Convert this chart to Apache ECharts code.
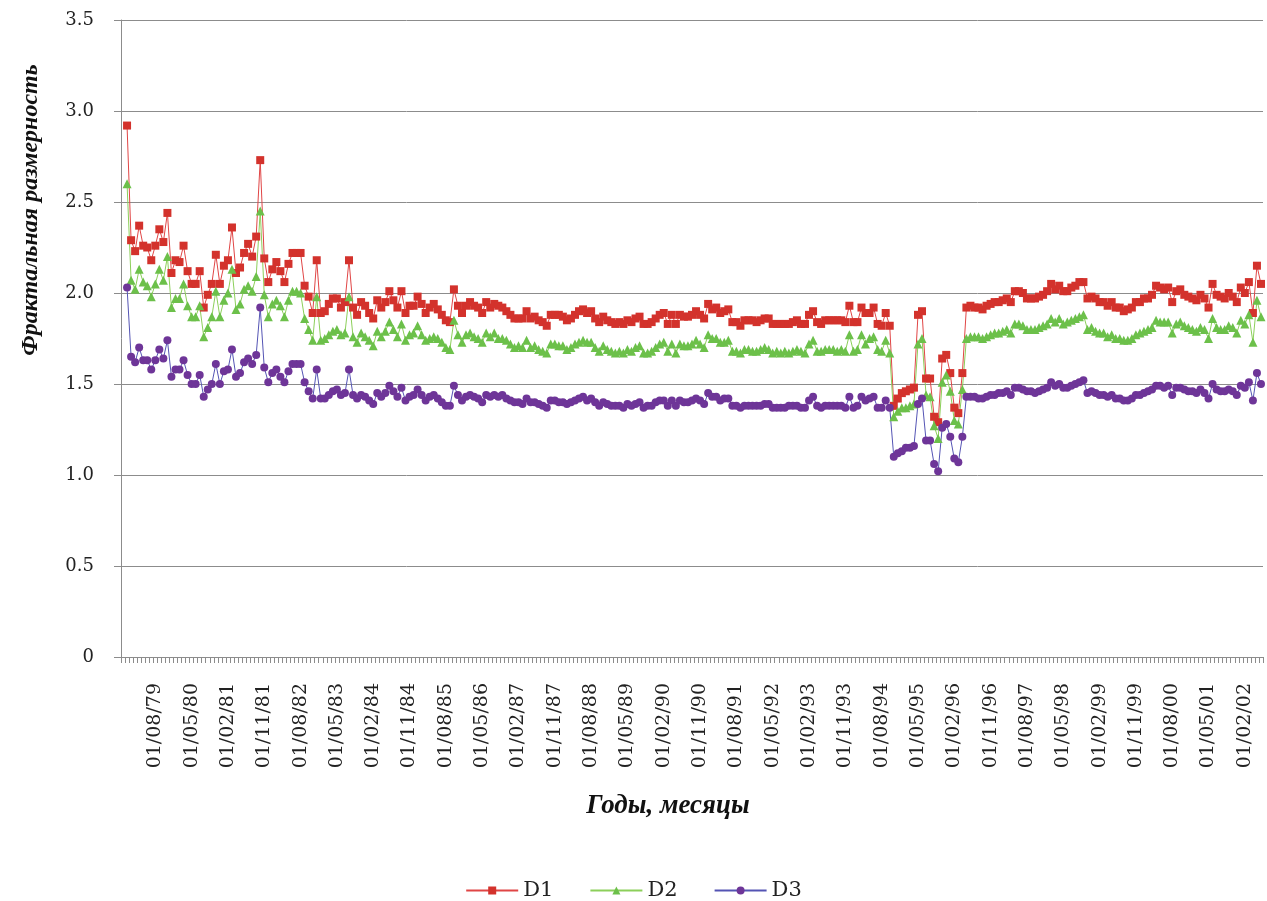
<!DOCTYPE html>
<html>
<head>
<meta charset="utf-8">
<script src="https://cdn.jsdelivr.net/npm/echarts@6/dist/echarts.min.js"></script>
<style>
  html, body { margin: 0; padding: 0; background: #fff; }
  #chart { width: 1267px; height: 901px; }
</style>
</head>
<body>
<div id="chart"></div>
<script>
// monthly categories: first (empty) slot 01/12/78, data from 01/01/79 to 01/06/02
const startYear = 1978
const startMonth = 12
const categoryCount = 283
const categories = []
for (let k = 0; k < categoryCount; k++) {
  const m = (startMonth - 1 + k) % 12 + 1
  const y = startYear + Math.floor((startMonth - 1 + k) / 12)
  categories.push('01/' + String(m).padStart(2, '0') + '/' + String(y % 100).padStart(2, '0'))
}

const yTicks = [0, 0.5, 1.0, 1.5, 2.0, 2.5, 3.0, 3.5]

const d1 = [
  2.92, 2.29, 2.23, 2.37, 2.26, 2.25, 2.18, 2.26, 2.35, 2.28,
  2.44, 2.11, 2.18, 2.17, 2.26, 2.12, 2.05, 2.05, 2.12, 1.92,
  1.99, 2.05, 2.21, 2.05, 2.15, 2.18, 2.36, 2.11, 2.14, 2.22,
  2.27, 2.20, 2.31, 2.73, 2.19, 2.06, 2.13, 2.17, 2.12, 2.06,
  2.16, 2.22, 2.22, 2.22, 2.04, 1.98, 1.89, 2.18, 1.89, 1.90,
  1.94, 1.97, 1.97, 1.92, 1.95, 2.18, 1.92, 1.88, 1.95, 1.93,
  1.89, 1.86, 1.96, 1.92, 1.95, 2.01, 1.96, 1.92, 2.01, 1.89,
  1.93, 1.93, 1.98, 1.94, 1.89, 1.92, 1.94, 1.91, 1.88, 1.85,
  1.84, 2.02, 1.93, 1.89, 1.93, 1.95, 1.93, 1.92, 1.89, 1.95,
  1.92, 1.94, 1.93, 1.92, 1.90, 1.88, 1.86, 1.86, 1.86, 1.90,
  1.86, 1.87, 1.85, 1.84, 1.82, 1.88, 1.88, 1.88, 1.87, 1.85,
  1.86, 1.88, 1.90, 1.91, 1.89, 1.90, 1.86, 1.84, 1.87, 1.85,
  1.84, 1.83, 1.84, 1.83, 1.85, 1.84, 1.86, 1.87, 1.83, 1.83,
  1.84, 1.86, 1.88, 1.89, 1.83, 1.88, 1.83, 1.88, 1.87, 1.87,
  1.88, 1.90, 1.88, 1.86, 1.94, 1.91, 1.92, 1.89, 1.90, 1.91,
  1.84, 1.84, 1.82, 1.85, 1.85, 1.85, 1.84, 1.85, 1.86, 1.86,
  1.83, 1.83, 1.83, 1.83, 1.83, 1.84, 1.85, 1.83, 1.83, 1.88,
  1.90, 1.84, 1.83, 1.85, 1.85, 1.85, 1.85, 1.85, 1.84, 1.93,
  1.84, 1.84, 1.92, 1.89, 1.89, 1.92, 1.83, 1.82, 1.89, 1.82,
  1.38, 1.42, 1.45, 1.46, 1.47, 1.48, 1.88, 1.90, 1.53, 1.53,
  1.32, 1.29, 1.64, 1.66, 1.56, 1.37, 1.34, 1.56, 1.92, 1.93,
  1.92, 1.92, 1.91, 1.93, 1.94, 1.95, 1.95, 1.96, 1.97, 1.95,
  2.01, 2.01, 2.00, 1.97, 1.97, 1.97, 1.98, 1.99, 2.01, 2.05,
  2.02, 2.04, 2.01, 2.01, 2.03, 2.04, 2.06, 2.06, 1.97, 1.98,
  1.97, 1.95, 1.95, 1.93, 1.95, 1.92, 1.92, 1.90, 1.91, 1.92,
  1.95, 1.95, 1.97, 1.97, 1.99, 2.04, 2.03, 2.02, 2.03, 1.95,
  2.01, 2.02, 1.99, 1.98, 1.97, 1.96, 1.99, 1.97, 1.92, 2.05,
  1.99, 1.98, 1.97, 2.00, 1.98, 1.95, 2.03, 2.00, 2.06, 1.89,
  2.15, 2.05
]

const d2 = [
  2.60, 2.07, 2.02, 2.13, 2.06, 2.04, 1.98, 2.05, 2.13, 2.07,
  2.20, 1.92, 1.97, 1.97, 2.05, 1.93, 1.87, 1.87, 1.93, 1.76,
  1.81, 1.87, 2.01, 1.87, 1.96, 2.00, 2.13, 1.91, 1.94, 2.02,
  2.04, 2.01, 2.09, 2.45, 1.99, 1.87, 1.94, 1.96, 1.93, 1.87,
  1.96, 2.01, 2.01, 2.00, 1.86, 1.80, 1.74, 1.98, 1.74, 1.75,
  1.77, 1.79, 1.80, 1.77, 1.78, 1.98, 1.76, 1.73, 1.78, 1.76,
  1.74, 1.71, 1.79, 1.76, 1.79, 1.84, 1.80, 1.76, 1.83, 1.74,
  1.77, 1.78, 1.82, 1.77, 1.74, 1.75, 1.76, 1.75, 1.73, 1.70,
  1.69, 1.85, 1.77, 1.73, 1.77, 1.78, 1.76, 1.75, 1.73, 1.78,
  1.76, 1.78, 1.75, 1.75, 1.74, 1.72, 1.70, 1.71, 1.70, 1.74,
  1.70, 1.71, 1.69, 1.68, 1.67, 1.72, 1.72, 1.71, 1.71, 1.69,
  1.70, 1.72, 1.73, 1.74, 1.73, 1.73, 1.70, 1.68, 1.71, 1.69,
  1.68, 1.67, 1.68, 1.67, 1.69, 1.68, 1.70, 1.71, 1.67, 1.67,
  1.68, 1.70, 1.72, 1.73, 1.68, 1.72, 1.67, 1.72, 1.71, 1.71,
  1.72, 1.74, 1.72, 1.70, 1.77, 1.75, 1.75, 1.73, 1.73, 1.74,
  1.68, 1.68, 1.67, 1.69, 1.69, 1.68, 1.68, 1.69, 1.70, 1.69,
  1.67, 1.68, 1.67, 1.68, 1.67, 1.68, 1.69, 1.68, 1.67, 1.72,
  1.74, 1.68, 1.68, 1.69, 1.69, 1.69, 1.68, 1.69, 1.68, 1.77,
  1.68, 1.69, 1.77, 1.72, 1.75, 1.76, 1.69, 1.68, 1.74, 1.67,
  1.32, 1.35, 1.37, 1.37, 1.38, 1.39, 1.72, 1.75, 1.44, 1.43,
  1.27, 1.20, 1.51, 1.55, 1.46, 1.30, 1.28, 1.47, 1.75, 1.76,
  1.76, 1.76, 1.75, 1.76, 1.77, 1.78, 1.78, 1.79, 1.80, 1.78,
  1.83, 1.83, 1.82, 1.80, 1.80, 1.80, 1.81, 1.82, 1.83, 1.86,
  1.84, 1.86, 1.83, 1.84, 1.85, 1.86, 1.87, 1.88, 1.80, 1.81,
  1.79, 1.78, 1.78, 1.76, 1.77, 1.75, 1.75, 1.74, 1.74, 1.75,
  1.77, 1.78, 1.79, 1.80, 1.81, 1.85, 1.84, 1.84, 1.84, 1.78,
  1.83, 1.84, 1.82, 1.81, 1.80, 1.79, 1.81, 1.80, 1.75, 1.86,
  1.81, 1.80, 1.80, 1.82, 1.81, 1.78, 1.85, 1.83, 1.88, 1.73,
  1.96, 1.87
]

const d3 = [
  2.03, 1.65, 1.62, 1.70, 1.63, 1.63, 1.58, 1.63, 1.69, 1.64,
  1.74, 1.54, 1.58, 1.58, 1.63, 1.55, 1.50, 1.50, 1.55, 1.43,
  1.47, 1.50, 1.61, 1.50, 1.57, 1.58, 1.69, 1.54, 1.56, 1.62,
  1.64, 1.61, 1.66, 1.92, 1.59, 1.51, 1.56, 1.58, 1.54, 1.51,
  1.57, 1.61, 1.61, 1.61, 1.51, 1.46, 1.42, 1.58, 1.42, 1.42,
  1.44, 1.46, 1.47, 1.44, 1.45, 1.58, 1.44, 1.42, 1.44, 1.43,
  1.41, 1.39, 1.45, 1.43, 1.45, 1.49, 1.46, 1.43, 1.48, 1.41,
  1.43, 1.44, 1.47, 1.44, 1.41, 1.43, 1.44, 1.42, 1.40, 1.38,
  1.38, 1.49, 1.44, 1.41, 1.43, 1.44, 1.43, 1.42, 1.40, 1.44,
  1.43, 1.44, 1.43, 1.44, 1.42, 1.41, 1.40, 1.40, 1.39, 1.42,
  1.40, 1.40, 1.39, 1.38, 1.37, 1.41, 1.41, 1.40, 1.40, 1.39,
  1.40, 1.41, 1.42, 1.43, 1.41, 1.42, 1.40, 1.38, 1.40, 1.39,
  1.38, 1.38, 1.38, 1.37, 1.39, 1.38, 1.39, 1.40, 1.37, 1.38,
  1.38, 1.40, 1.41, 1.41, 1.38, 1.41, 1.38, 1.41, 1.40, 1.40,
  1.41, 1.42, 1.41, 1.39, 1.45, 1.43, 1.43, 1.41, 1.42, 1.42,
  1.38, 1.38, 1.37, 1.38, 1.38, 1.38, 1.38, 1.38, 1.39, 1.39,
  1.37, 1.37, 1.37, 1.37, 1.38, 1.38, 1.38, 1.37, 1.37, 1.41,
  1.43, 1.38, 1.37, 1.38, 1.38, 1.38, 1.38, 1.38, 1.37, 1.43,
  1.37, 1.38, 1.43, 1.41, 1.42, 1.43, 1.37, 1.37, 1.41, 1.37,
  1.10, 1.12, 1.13, 1.15, 1.15, 1.16, 1.39, 1.42, 1.19, 1.19,
  1.06, 1.02, 1.26, 1.28, 1.21, 1.09, 1.07, 1.21, 1.43, 1.43,
  1.43, 1.42, 1.42, 1.43, 1.44, 1.44, 1.45, 1.45, 1.46, 1.44,
  1.48, 1.48, 1.47, 1.46, 1.46, 1.45, 1.46, 1.47, 1.48, 1.51,
  1.49, 1.50, 1.48, 1.48, 1.49, 1.50, 1.51, 1.52, 1.45, 1.46,
  1.45, 1.44, 1.44, 1.43, 1.44, 1.42, 1.42, 1.41, 1.41, 1.42,
  1.44, 1.44, 1.45, 1.46, 1.47, 1.49, 1.49, 1.48, 1.49, 1.44,
  1.48, 1.48, 1.47, 1.46, 1.46, 1.45, 1.47, 1.45, 1.42, 1.50,
  1.47, 1.46, 1.46, 1.47, 1.46, 1.44, 1.49, 1.48, 1.51, 1.41,
  1.56, 1.50
]

const serif = '"DejaVu Serif", "Liberation Serif", serif'
const titleFont = '"Liberation Serif", "DejaVu Serif", serif'
const gray = '#8c8c8c'

const chart = echarts.init(document.getElementById('chart'))

function makeSeries(name, values, symbol, size, markColor, lineColor) {
  return {
    type: 'line',
    name,
    data: [null].concat(values),
    symbol,
    symbolSize: size,
    showAllSymbol: true,
    animation: false,
    lineStyle: { color: lineColor, width: 1 },
    itemStyle: { color: markColor },
    emphasis: { disabled: true },
  }
}

chart.setOption({
  animation: false,
  grid: { left: 121, right: 4, top: 20, bottom: 244, containLabel: false },
  xAxis: {
    type: 'category',
    data: categories,
    boundaryGap: true,
    axisLine: { lineStyle: { color: gray, width: 1 } },
    axisTick: { show: true, interval: 0, length: 6, lineStyle: { color: gray } },
    axisLabel: {
      interval: (index) => index % 9 === 8,
      rotate: 90,
      margin: 26,
      fontFamily: serif,
      fontSize: 19,
      color: '#222',
    },
    splitLine: { show: false },
  },
  yAxis: {
    type: 'value',
    min: yTicks[0],
    max: yTicks[yTicks.length - 1],
    interval: 0.5,
    axisLine: { show: true, lineStyle: { color: gray, width: 1 } },
    axisTick: { show: true, length: 7, lineStyle: { color: gray } },
    axisLabel: {
      margin: 27,
      fontFamily: serif,
      fontSize: 18,
      color: '#222',
      formatter: (v) => (v === 0 ? '0' : v.toFixed(1)),
    },
    splitLine: { lineStyle: { color: gray, width: 1 } },
  },
  legend: {
    top: 875,
    left: 'center',
    itemWidth: 52,
    itemHeight: 10,
    itemGap: 36,
    textStyle: { fontFamily: serif, fontSize: 21, color: '#222' },
    data: ['D1', 'D2', 'D3'],
  },
  graphic: [
    {
      type: 'text',
      x: 31,
      y: 210,
      rotation: Math.PI / 2,
      style: {
        text: 'Фрактальная размерность',
        font: 'italic bold 24px ' + titleFont,
        fill: '#111',
        align: 'center',
        verticalAlign: 'middle',
      },
    },
    {
      type: 'text',
      x: 668,
      y: 806,
      style: {
        text: 'Годы, месяцы',
        font: 'italic bold 27px ' + titleFont,
        fill: '#111',
        align: 'center',
        verticalAlign: 'middle',
      },
    },
  ],
  series: [
    makeSeries('D1', d1, 'rect', 8, '#d3322c', '#e04545'),
    makeSeries('D2', d2, 'triangle', 9, '#6cc04a', '#8ccf5a'),
    makeSeries('D3', d3, 'circle', 8, '#6e3598', '#5454b4'),
  ],
})
</script>
</body>
</html>
